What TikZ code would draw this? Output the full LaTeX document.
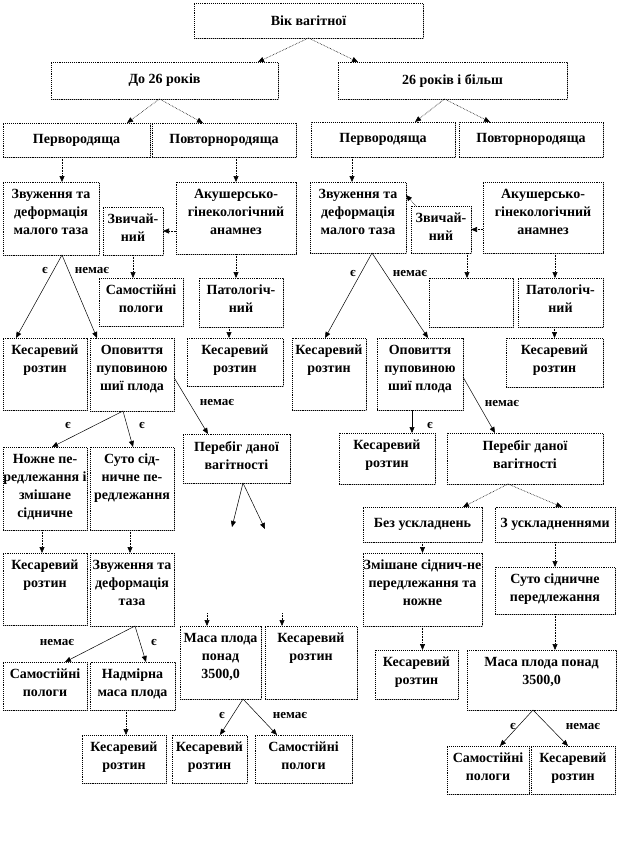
\documentclass[tikz,border=0pt]{standalone}
\usepackage{fontspec}
\setmainfont{Liberation Serif}
\usetikzlibrary{arrows.meta,shadows}
\tikzset{
 box/.style={draw=black, densely dotted, line width=0.9pt, fill=white, inner sep=0pt, outer sep=0pt,
   drop shadow={shadow xshift=1pt,shadow yshift=-1pt,fill=black!60}},
 txt/.style={font=\fontsize{14}{18}\selectfont\bfseries, align=center, inner sep=0pt},
 lbl/.style={font=\fontsize{13}{15}\selectfont\bfseries, inner sep=0pt},
 conn/.style={densely dotted, line width=0.6pt, -{Triangle[length=6pt,width=5pt]}},
 sconn/.style={line width=0.5pt, -{Triangle[length=6pt,width=5pt]}},
}
% top-aligned text box: name, x1, y1, x2, y2, text
\newcommand\bx[6]{%
 \node[box, minimum width={(#4-#2)*1pt}, minimum height={(#5-#3)*1pt}] (#1) at ({(#2+#4)/2},{(#3+#5)/2}) {};
 \node[txt, anchor=north] (#1t) at ([yshift=-7pt]#1.north) {#6};}
% centred text box
\newcommand\bc[6]{%
 \node[box, txt, minimum width={(#4-#2)*1pt}, minimum height={(#5-#3)*1pt}] (#1) at ({(#2+#4)/2},{(#3+#5)/2}) {#6};}
\begin{document}
\begin{tikzpicture}[x=1pt,y=-1pt]
\useasboundingbox (0,0) rectangle (618,867);
% level 0-2
\bc{vik}{194}{3}{423}{38}{Вік вагітної}
\bc{doa}{51}{62}{278}{99}{До 26 років}
\bc{dob}{338}{62}{567}{99}{26 років і більш}
\bc{perva}{3}{123}{150}{157}{Первородяща}
\bc{povta}{152}{123}{296}{157}{Повторнородяща}
\bc{pervb}{311}{122}{455}{157}{Первородяща}
\bc{povtb}{459}{122}{603}{157}{Повторнородяща}
% left tree
\bx{zva}{3}{182}{99}{255}{Звуження та\\деформація\\малого таза}
\bx{zvicha}{103}{207}{163}{255}{Звичай-\\ний}
\bx{aka}{176}{182}{296}{254}{Акушерсько-\\гінекологічний\\анамнез}
\bx{sama}{99}{278}{183}{326}{Самостійні\\пологи}
\bx{pata}{199}{278}{283}{327}{Патологіч-\\ний}
\bx{kespat}{187}{338}{283}{386}{Кесаревий\\розтин}
\bx{kesa}{3}{338}{87}{410}{Кесаревий\\розтин}
\bx{opa}{90}{338}{174}{411}{Оповиття\\пуповиною\\шиї плода}
\bx{noz}{3}{447}{87}{530}{Ножне пе-\\редлежання і\\змішане\\сідничне}
\bx{sutoa}{90}{447}{174}{530}{Суто сід-\\ничне пе-\\редлежання}
\bx{pera}{183}{434}{290}{483}{Перебіг даної\\вагітності}
\bx{kesnoz}{3}{553}{87}{625}{Кесаревий\\розтин}
\bx{zvt}{90}{553}{174}{626}{Звуження та\\деформація\\таза}
\bx{samb}{3}{662}{87}{710}{Самостійні\\пологи}
\bx{nad}{90}{662}{175}{710}{Надмірна\\маса плода}
\bx{kesnad}{82}{735}{166}{783}{Кесаревий\\розтин}
\bx{masaa}{180}{626}{261}{699}{Маса плода\\понад\\3500,0}
\bx{kesm}{265}{626}{357}{699}{Кесаревий\\розтин}
\bx{kesma}{172}{735}{247}{783}{Кесаревий\\розтин}
\bx{samma}{255}{735}{352}{783}{Самостійні\\пологи}
% right tree
\bx{zvb}{310}{182}{406}{253}{Звуження та\\деформація\\малого таза}
\bx{zvichb}{411}{206}{471}{253}{Звичай-\\ний}
\bx{akb}{483}{182}{603}{253}{Акушерсько-\\гінекологічний\\анамнез}
\bx{empty}{429}{278}{513}{327}{}
\bx{patb}{518}{278}{603}{327}{Патологіч-\\ний}
\bx{kespatb}{506}{338}{603}{387}{Кесаревий\\розтин}
\bx{kesb}{292}{338}{366}{410}{Кесаревий\\розтин}
\bx{opb}{377}{338}{463}{410}{Оповиття\\пуповиною\\шиї плода}
\bx{kesopb}{339}{433}{435}{484}{Кесаревий\\розтин}
\bx{perb}{447}{433}{603}{484}{Перебіг даної\\вагітності}
\bc{bez}{363}{507}{482}{542}{Без ускладнень}
\bc{zus}{495}{507}{615}{542}{З ускладненнями}
\bx{zm}{363}{553}{482}{626}{Змішане сіднич-не\\передлежання та\\ножне}
\bx{sutob}{495}{567}{615}{614}{Суто сідничне\\передлежання}
\bx{keszm}{375}{650}{458}{699}{Кесаревий\\розтин}
\bx{masab}{467}{650}{616}{710}{Маса плода понад\\3500,0}
\bx{sammb}{447}{746}{529}{794}{Самостійні\\пологи}
\bx{kesmb}{531}{746}{615}{794}{Кесаревий\\розтин}
% free ends
\coordinate (fa) at (232,527);
\coordinate (fb) at (265,529);
\coordinate (sa) at (207,613);
\coordinate (sb) at (282,613);
% connectors top
\draw[conn] (vik.south) -- ([xshift=93.5pt]doa.north);
\draw[conn] (vik.south) -- ([xshift=-94.5pt]dob.north);
\draw[conn] ([xshift=-5pt]doa.south) -- ([xshift=50.5pt]perva.north);
\draw[conn] ([xshift=-5pt]doa.south) -- ([xshift=-21pt]povta.north);
\draw[conn] ([xshift=-8pt]dob.south) -- ([xshift=32pt]pervb.north);
\draw[conn] ([xshift=-8pt]dob.south) -- ([xshift=-41pt]povtb.north);
\draw[conn] ([xshift=-14.5pt]perva.south) -- ([xshift=-14.5pt]perva.south |- zva.north);
\draw[conn] (aka.north |- povta.south) -- (aka.north);
\draw[conn] ([xshift=-6pt]zvb.north |- pervb.south) -- ([xshift=-6pt]zvb.north);
% left tree connectors
\draw[conn] (aka.west |- zvicha.east) -- (zvicha.east);
\draw[conn] (zvicha.south) -- (zvicha.south |- sama.north);
\draw[conn] (aka.south) -- (aka.south |- pata.north);
\draw[conn] ([xshift=-6pt]kespat.north |- pata.south) -- ([xshift=-6pt]kespat.north);
\draw[sconn] ([xshift=11pt]zva.south) -- ([xshift=-29pt]kesa.north);
\draw[sconn] ([xshift=11pt]zva.south) -- ([xshift=-35pt]opa.north);
\draw[sconn] ([xshift=-9pt]opa.south) -- ([xshift=7pt]noz.north);
\draw[sconn] ([xshift=-9pt]opa.south) -- ([xshift=1pt]sutoa.north);
\draw[sconn] ([yshift=-3pt]opa.east) -- ([xshift=-28.5pt]pera.north);
\draw[sconn] ([xshift=6.5pt]pera.south) -- (fa);
\draw[sconn] ([xshift=6.5pt]pera.south) -- (fb);
\draw[conn] ([xshift=-3pt]noz.south) -- ([xshift=-3pt]noz.south |- kesnoz.north);
\draw[conn] ([xshift=-2pt]sutoa.south) -- ([xshift=-2pt]sutoa.south |- zvt.north);
\draw[sconn] ([xshift=3pt]zvt.south) -- ([xshift=20pt]samb.north);
\draw[sconn] ([xshift=3pt]zvt.south) -- ([xshift=13.5pt]nad.north);
\draw[conn] ([xshift=-6.5pt]nad.south) -- ([xshift=-6.5pt]nad.south |- kesnad.north);
\draw[conn] (sa) -- (sa |- masaa.north);
\draw[conn] (sb) -- (sb |- kesm.north);
\draw[sconn] ([xshift=22.5pt]masaa.south) -- ([xshift=10.5pt]kesma.north);
\draw[sconn] ([xshift=22.5pt]masaa.south) -- ([xshift=-26.5pt]samma.north);
% right tree connectors
\draw[conn] (akb.west |- zvichb.east) -- (zvichb.east);
\draw[conn] ([xshift=-25pt]zvichb.north) -- ([yshift=22.5pt]zvb.east);
\draw[conn] ([xshift=26pt]zvichb.south) -- ([xshift=26pt]zvichb.south |- empty.north);
\draw[conn] ([xshift=12pt]akb.south) -- ([xshift=12pt]akb.south |- patb.north);
\draw[conn] (kespatb.north |- patb.south) -- (kespatb.north);
\draw[sconn] ([xshift=14pt]zvb.south) -- ([xshift=-4pt]kesb.north);
\draw[sconn] ([xshift=14pt]zvb.south) -- ([xshift=8pt]opb.north);
\draw[sconn] ([xshift=-8pt]opb.south) -- ([xshift=-8pt]opb.south |- kesopb.north);
\draw[sconn] ([yshift=-3pt]opb.east) -- ([xshift=-30pt]perb.north);
\draw[conn] ([xshift=-17pt]perb.south) -- ([xshift=40.5pt]bez.north);
\draw[conn] ([xshift=-17pt]perb.south) -- ([xshift=7pt]zus.north);
\draw[conn] (bez.south) -- (bez.south |- zm.north);
\draw[conn] (zus.south) -- (zus.south |- sutob.north);
\draw[conn] (zm.south) -- (zm.south |- keszm.north);
\draw[conn] (sutob.south) -- (sutob.south |- masab.north);
\draw[sconn] ([xshift=-8.5pt]masab.south) -- ([xshift=12pt]sammb.north);
\draw[sconn] ([xshift=-8.5pt]masab.south) -- ([xshift=-5pt]kesmb.north);
% labels
\node[lbl] (l1) at (45,270) {є};
\node[lbl] (l2) at (92,270) {немає};
\node[lbl] (l3) at (68,425) {є};
\node[lbl] (l4) at (142,425) {є};
\node[lbl] (l5) at (217,402) {немає};
\node[lbl] (l6) at (57,642) {немає};
\node[lbl] (l7) at (154,642) {є};
\node[lbl] (l8) at (222,715) {є};
\node[lbl] (l9) at (290,715) {немає};
\node[lbl] (l10) at (353,273) {є};
\node[lbl] (l11) at (410,273) {немає};
\node[lbl] (l12) at (430,425) {є};
\node[lbl] (l13) at (502,403) {немає};
\node[lbl] (l14) at (513,726) {є};
\node[lbl] (l15) at (583,726) {немає};
\end{tikzpicture}
\end{document}
